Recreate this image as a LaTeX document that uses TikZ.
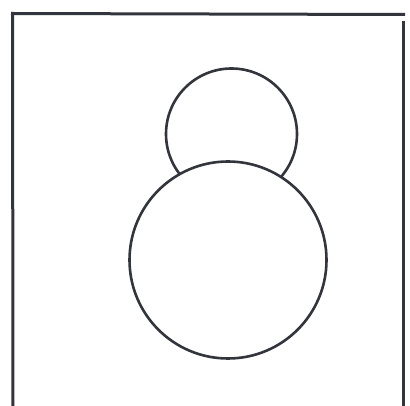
\documentclass[tikz,border=0pt]{standalone}
\begin{document}
\begin{tikzpicture}[x=1pt,y=-1pt,
  ink/.style={draw={rgb,255:red,50;green,53;blue,60},line width=2.6pt}]
\useasboundingbox (0,0) rectangle (410,406);
% frame
\draw[ink,line width=3pt] (11,13.5) -- (405,14.5);
\draw[ink,line width=3pt] (12.5,12) -- (13,406);
\draw[ink,line width=3pt] (403,21) -- (403,406);
% small circle (behind)
\draw[ink] (231.5,134) circle (65.5);
% big circle (in front)
\draw[ink,fill=white] (228,260) circle (98.5);
\end{tikzpicture}
\end{document}
